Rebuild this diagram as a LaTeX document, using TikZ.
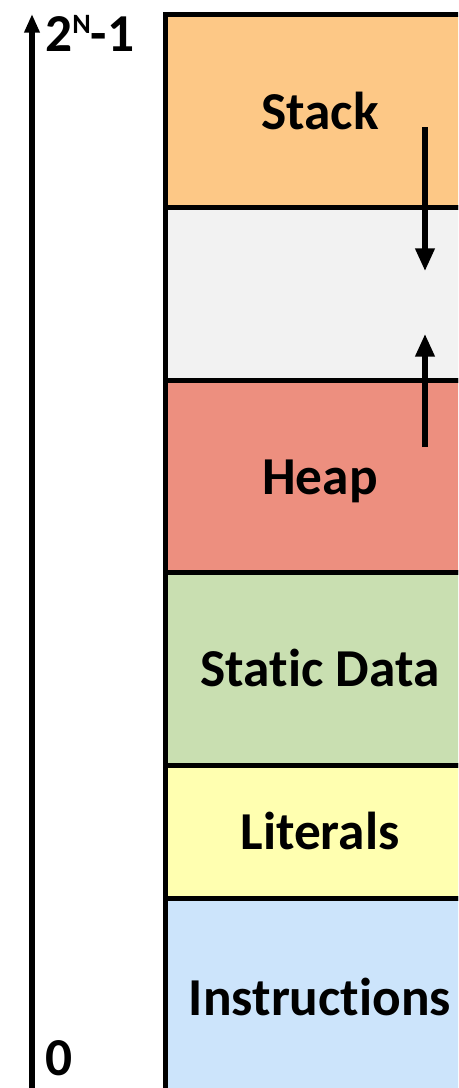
\documentclass[tikz,border=0pt]{standalone}
\usepackage{fontspec}
\setmainfont[Ligatures=NoCommon]{Carlito}
\usetikzlibrary{arrows.meta}
\definecolor{stackcol}{HTML}{FDC886}
\definecolor{freecol}{HTML}{F2F2F2}
\definecolor{heapcol}{HTML}{ED8F7F}
\definecolor{staticcol}{HTML}{C9DFB1}
\definecolor{litcol}{HTML}{FFFFB0}
\definecolor{instrcol}{HTML}{CCE4FB}
\begin{document}
\begin{tikzpicture}[x=0.75pt,y=-0.75pt,line cap=butt]
        % Styles
        \tikzstyle{segment}=[line width=3.75pt]
        \tikzstyle{label text}=[font=\fontsize{40}{48}\selectfont\bfseries,inner sep=0pt]
        \tikzstyle{grow arrow}=[line width=3.8pt,-{Triangle[length=17pt,width=14pt]}]
        \useasboundingbox (0,0) rectangle (458,1088);
        \clip (0,0) rectangle (458,1088);
        %segments
        \foreach \name/\ytop/\ybot/\col/\lab in {stack/15/207/stackcol/Stack,free/207/380/freecol/,heap/380/572/heapcol/Heap,static/572/765/staticcol/Static Data,lit/765/898/litcol/Literals,instr/898/1096/instrcol/Instructions}
        {
            \draw[segment,fill=\col] (165,\ytop) rectangle (540,\ybot);
            \node[label text,anchor=base] (\name) at (320,{(\ytop+\ybot)/2+18}) {\lab};
        }
        %growth arrows
        \coordinate (stack from) at (425,127);
        \coordinate (stack to) at (425,271);
        \coordinate (heap from) at (425,447);
        \coordinate (heap to) at (425,334);
        \draw[grow arrow] (stack from) -- (stack to);
        \draw[grow arrow] (heap from) -- (heap to);
        %address axis
        \coordinate (axis bottom) at (32,1100);
        \coordinate (axis top) at (32,14);
        \draw[grow arrow,-{Triangle[length=14pt,width=11pt]}] (axis bottom) -- (axis top);
        \node[label text,anchor=base west] (high) at (45,52) {2\raisebox{14pt}{\fontsize{21}{22}\selectfont N}-1};
        \node[label text,anchor=base west] (low) at (45,1075) {0};
    \end{tikzpicture}
\end{document}
